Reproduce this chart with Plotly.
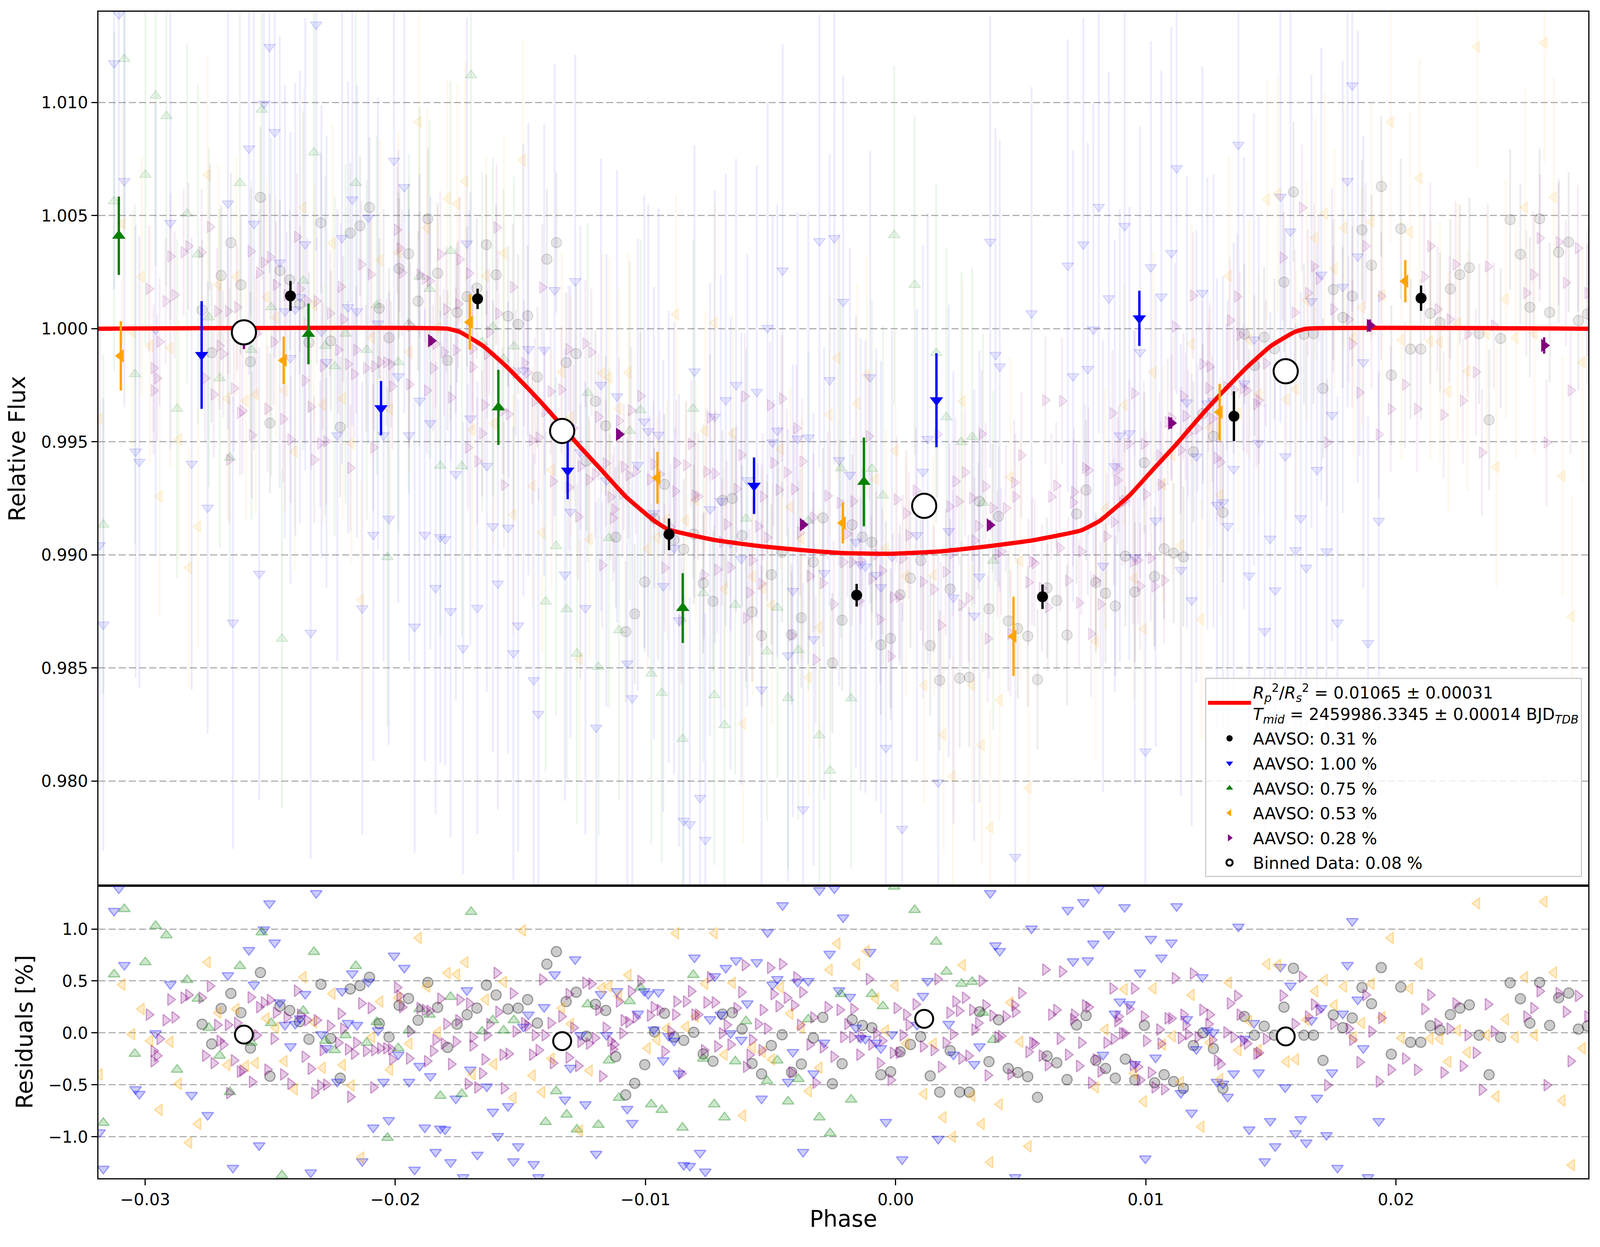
import numpy as np
import plotly.graph_objects as go
from plotly.subplots import make_subplots

# ---- transit model ----
model_phase = [-0.0319, -0.01791, -0.01743, -0.01649, -0.01554, -0.01459, -0.01364, -0.01269,
               -0.01174, -0.01079, -0.00965, -0.00908, -0.00718, -0.00528, -0.00339, -0.00209,
               -0.00019, 0.00171, 0.00361, 0.00550, 0.00740, 0.00816, 0.00930, 0.01025, 0.01120,
               0.01215, 0.01310, 0.01405, 0.01500, 0.01595, 0.01642, 0.0277]
model_flux = [1.0, 1.0, 0.99986, 0.99924, 0.99831, 0.99724, 0.99609, 0.99487,
              0.99373, 0.99258, 0.99151, 0.99112, 0.99065, 0.99037, 0.99018, 0.99008,
              0.99005, 0.99015, 0.99037, 0.99065, 0.99108, 0.99151, 0.99258, 0.99373, 0.99487,
              0.99609, 0.99724, 0.99831, 0.99924, 0.99986, 1.0, 1.0]

# ---- individual observations: phase and residual [%] ----
gray_phase = [-0.02539, -0.02657, -0.02696, -0.02617, -0.02772, -0.02734, -0.02579, -0.02501, -0.02461, -0.02422,
              -0.02383, -0.02345, -0.02297, -0.02258, -0.02220, -0.02180, -0.02141, -0.02103, -0.02064, -0.02025,
              -0.01985, -0.01947, -0.01909, -0.01870, -0.01831, -0.01791, -0.01753, -0.01713,
              -0.01636, -0.01597, -0.01674, -0.01549, -0.01509, -0.01471, -0.01432, -0.01394, -0.01356, -0.01317,
              -0.01277, -0.01236, -0.01200, -0.01159, -0.01119, -0.01079, -0.01043, -0.01003, -0.00964, -0.00924,
              -0.00886, -0.00847, -0.00807, -0.00769, -0.00730, -0.00692, -0.00653, -0.00614, -0.00574, -0.00536,
              -0.00497, -0.00454, -0.00416, -0.00377, -0.00329, -0.00291, -0.00253, -0.00214,
              -0.00174, -0.00133, -0.00095, -0.00059, -0.00020, 0.00018, 0.00059, 0.00100, 0.00138, 0.00176,
              0.00218, 0.00256, 0.00294, 0.00335, 0.00373, 0.00411, 0.00450, 0.00488, 0.00528, 0.00567,
              0.00605, 0.00644, 0.00685, 0.00723, 0.00761, 0.00800, 0.00839, 0.00878, 0.00918, 0.00956,
              0.00994, 0.01035, 0.01073, 0.01111, 0.01150, 0.01190, 0.01228, 0.01270,
              0.01308, 0.01394, 0.01434, 0.01473, 0.01514, 0.01552, 0.01590, 0.01632, 0.01670, 0.01708,
              0.01749, 0.01787, 0.01825, 0.01864, 0.01902, 0.01941, 0.01981, 0.02019, 0.02058, 0.02099,
              0.02137, 0.02176, 0.02217, 0.02255, 0.02293, 0.02332, 0.02372, 0.02418, 0.02456, 0.02497,
              0.02535, 0.02574, 0.02614, 0.02650, 0.02690, 0.02729, 0.02765]
gray_res = [0.581, 0.380, 0.235, 0.194, 0.083, -0.106, -0.146, -0.417, 0.257, 0.216,
            0.108, -0.061, 0.468, -0.054, -0.435, 0.423, 0.455, 0.536, 0.090, -0.040,
            0.266, 0.331, 0.122, 0.486, 0.245, -0.140, 0.083, 0.176,
            0.460, 0.365, 0.239, 0.230, 0.239, 0.320, 0.095, 0.662, 0.782, 0.302,
            0.392, -0.031, 0.275, 0.216, -0.228, -0.597, -0.485, -0.306, 0.011, 0.189,
            -0.040, -0.072, 0.005, -0.202, -0.273, 0.180, 0.194, 0.036, -0.295, -0.395,
            -0.121, -0.018, -0.378, -0.300, -0.049, 0.149, -0.489, -0.297,
            0.126, 0.072, 0.050, -0.403, -0.374, -0.183, -0.112, -0.036, -0.414, -0.570,
            -0.171, -0.570, -0.570, 0.203, -0.277, 0.126, -0.342, -0.381, -0.421, -0.620,
            -0.223, -0.288, -0.450, 0.077, 0.167, -0.264, -0.342, -0.435, -0.252, -0.453,
            0.072, -0.480, -0.403, -0.468, -0.534, -0.121, 0.000, -0.151,
            -0.534, 0.158, -0.022, 0.065, -0.022, 0.248, 0.622, -0.022, -0.022, -0.264,
            0.173, 0.050, 0.144, 0.437, 0.281, 0.629, -0.205, 0.442, -0.090, -0.090,
            0.068, 0.027, 0.176, 0.239, 0.270, -0.022, -0.403, -0.043, 0.482, 0.329,
            0.095, 0.486, 0.072, 0.338, 0.383, 0.036, 0.065]

blue_phase = [-0.03105, -0.03124, -0.03083, -0.02899, -0.02958, -0.03038, -0.03023, -0.02814, -0.02750, -0.02669,
              -0.02585, -0.02565, -0.02503, -0.02525, -0.02482, -0.02316, -0.02360, -0.02462, -0.02441, -0.02400,
              -0.02419, -0.02381, -0.02295, -0.02275, -0.02232, -0.02213, -0.02189, -0.02153, -0.02172, -0.02108,
              -0.02069, -0.02047, -0.02005, -0.01964, -0.01988, -0.01945, -0.01903, -0.01860, -0.01714, -0.01700,
              -0.01758, -0.02088, -0.02026, -0.01882, -0.01820, -0.01801, -0.01839, -0.01779, -0.01923, -0.02132,
              -0.02338, -0.02544, -0.02649, -0.03167, -0.03182, -0.01729,
              -0.01634, -0.01281, -0.01363, -0.01405, -0.01468, -0.01488, -0.01610, -0.01549, -0.01590, -0.01672,
              -0.01528, -0.01509, -0.01447, -0.01428, -0.01322, -0.01240, -0.01197, -0.01300, -0.01260, -0.01178,
              -0.01156, -0.01114, -0.01073, -0.01053, -0.01031, -0.01005, -0.00989, -0.00967, -0.00948, -0.00929,
              -0.00907, -0.00886, -0.00866, -0.00847, -0.00823, -0.00782, -0.00761, -0.00804, -0.00723, -0.00742,
              -0.00699, -0.00679, -0.00660, -0.00638, -0.00617, -0.00593, -0.00555, -0.00512, -0.00492, -0.00473,
              -0.00452, -0.00411, -0.00430, -0.00392, -0.00349, -0.00328, -0.00286, -0.00264, -0.00226, -0.00536,
              -0.00370, -0.00305, -0.00245, -0.00210,
              -0.00102, -0.00159, -0.00140, -0.00121, -0.00078, -0.00059, -0.00015, -0.00183, -0.00039, 0.00026,
              0.00109, 0.00128, 0.00085, 0.00212, 0.00231, 0.00314, 0.00335, 0.00170, 0.00378, 0.00399,
              0.00416, 0.00478, 0.00543, 0.00688, 0.00750, 0.00709, 0.00768, 0.00790, 0.00852, 0.00915,
              0.01020, 0.01102, 0.01062, 0.00977, 0.01123, 0.01226, 0.00896, 0.00934, 0.00876, 0.00829,
              0.00956, 0.01039, 0.01164, 0.01202, 0.01140, 0.01183, 0.01246, 0.01270, 0.01284, 0.00998,
              0.00812,
              0.01370, 0.01825, 0.01806, 0.01538, 0.01578, 0.01701, 0.01662, 0.01787, 0.01847, 0.01432,
              0.01392, 0.01869, 0.01351, 0.01451, 0.01744, 0.01557, 0.01684, 0.01327, 0.01308, 0.01413,
              0.01497, 0.01619, 0.01598, 0.01641, 0.01722, 0.01517, 0.01931, 0.01475, 0.01766, 0.01888]
blue_res = [1.390, 1.174, 0.653, 0.468, -0.004, -0.543, -0.588, -0.597, -0.791, 0.554,
            0.797, 0.464, 1.246, 0.995, 0.869, 1.345, 0.374, 0.293, 0.077, 0.086,
            -0.129, 0.140, -0.013, -0.147, -0.471, 0.401, 0.095, 0.077, 0.572, 0.491,
            0.023, -0.471, 0.743, 0.626, -0.210, -0.471, -0.318, -0.417, 0.410, -0.354,
            -0.633, -0.911, -0.840, -0.911, -0.921, -0.930, -1.146, -1.245, -1.317, -1.236,
            -1.344, -1.083, -1.299, -1.308, -0.957, -1.389,
            -0.516, 0.708, 0.563, 0.248, 0.176, 0.059, -0.759, -0.705, -0.993, -1.173,
            -1.236, -1.092, -1.263, -1.389, -0.642, -0.687, -1.164, -0.336, -0.022, 0.374,
            -0.022, 0.401, -0.732, -0.867, 0.185, 0.401, 0.374, 0.032, 0.392, -0.264,
            -0.031, -0.076, -0.390, -1.272, -1.281, -1.155, -1.335, 0.725, 0.545, 0.131,
            0.176, 0.625, -0.004, 0.698, -0.067, 0.284, 0.680, 0.968, 0.464, 0.518,
            1.228, -0.184, -0.471, 0.491, 0.500, -0.390, -0.094, 0.761, 0.410, -0.633,
            -1.146, 1.372, 1.390, 1.111,
            0.779, 0.050, -0.049, -0.058, -0.094, -0.148, -0.013, 0.347, -0.858, -1.218,
            0.356, 0.500, 0.077, 0.086, -0.210, -0.300, -0.130, -1.020, 1.345, 0.842,
            0.788, -1.389, 1.004, 1.183, 1.259, 0.689, 0.698, 0.860, 0.950, 1.210,
            0.905, 0.869, 0.725, 0.581, 1.219, 0.536, 0.302, 0.275, 0.185, -0.211,
            -0.300, -0.238, 0.131, -0.157, -0.579, -0.768, 0.023, 0.005, -0.471, -1.209,
            1.390,
            1.022, 1.076, 0.653, 0.635, 0.455, 0.239, 0.122, 0.185, 0.320, 0.095,
            -0.058, -0.148, -0.390, -0.381, -0.381, -0.525, -0.624, -0.615, -0.489, -0.930,
            -0.849, -0.831, -0.966, -1.056, -0.984, -1.092, -0.849, -1.236, -1.299, -1.389]

green_phase = [-0.03083, -0.03124, -0.02999, -0.02958, -0.02915, -0.02832, -0.02789, -0.02745, -0.02621, -0.02534,
               -0.02368, -0.02325, -0.02158, -0.02074, -0.02199, -0.02280, -0.02242, -0.02114, -0.01988, -0.01946,
               -0.01903, -0.01863, -0.01779, -0.01697, -0.01820, -0.01734, -0.02031, -0.03041, -0.02872, -0.02702,
               -0.02661, -0.02496, -0.03167, -0.02453, -0.02575,
               -0.01610, -0.01653, -0.01567, -0.01526, -0.01231, -0.01146, -0.01063, -0.01020, -0.00809, -0.00769,
               -0.00641, -0.00598, -0.00514, -0.00473, -0.00389, -0.00349, -0.00219, -0.01106, -0.00977, -0.00935,
               -0.00725, -0.00684, -0.00430, -0.00305, -0.00262, -0.00852, -0.01188, -0.01274, -0.01315, -0.01357,
               -0.01399,
               -0.00006, 0.00076, 0.00162, 0.00203, 0.00263, 0.00306, -0.00095, -0.00051, 0.00349, 0.00390,
               -0.00178]
green_res = [1.192, 0.563, 0.680, 1.030, 0.940, 0.509, 0.329, 0.050, 0.644, 0.968,
             0.212, 0.779, 0.644, 0.104, -0.022, -0.076, -0.166, -0.094, -0.148, 0.023,
             0.230, 0.176, 0.347, 1.165, -0.606, -0.588, -1.010, -0.201, -0.354, -0.219,
             -0.570, 0.095, -0.866, -1.371, -0.094,
             0.122, 0.014, 0.023, 0.122, 0.275, -0.265, 0.305, 0.437, 0.558, -0.247,
             -0.274, 0.113, -0.462, -0.265, -0.444, 0.131, 0.374, -0.624, -0.687, -0.741,
             -0.687, -0.813, -0.660, -0.813, -0.966, -0.912, -0.885, -0.930, -0.786, -0.561,
             -0.858,
             1.408, 1.183, 0.878, 0.590, 0.473, 0.491, 0.374, 0.257, 0.194, -0.067,
             -0.642]

orange_phase = [-0.03091, -0.03014, -0.03052, -0.02980, -0.02899, -0.02750, -0.02707, -0.02635, -0.02865, -0.02942,
                -0.02788, -0.02824, -0.03182, -0.02671, -0.02597, -0.02558, -0.02515, -0.02477, -0.02443, -0.02402,
                -0.02367, -0.02325, -0.02290, -0.02251, -0.02210, -0.02175, -0.02093, -0.02060, -0.02021, -0.01988,
                -0.01944, -0.01906, -0.01873, -0.01830, -0.01791, -0.01753, -0.01720, -0.02136, -0.01691,
                -0.01490, -0.01566, -0.01638, -0.01605, -0.01451, -0.01528, -0.01413, -0.01223, -0.01298, -0.01334,
                -0.01375, -0.01173, -0.01145, -0.01106, -0.01068, -0.00991, -0.00953, -0.00914, -0.00838, -0.00799,
                -0.00878, -0.00724, -0.00761, -0.00651, -0.00684, -0.00571, -0.00531, -0.00494, -0.00459, -0.00421,
                -0.00377, -0.00305, -0.00264, -0.00233, -0.00347, -0.00610, -0.01262,
                -0.00116, -0.00154, -0.00001, 0.00268, -0.00078, -0.00039, 0.00042, 0.00152, 0.00459, 0.00498,
                0.00838, 0.00915, 0.01030, 0.01183, 0.01107, 0.01068, 0.01255, 0.00953, 0.00800, 0.01140,
                0.00114, 0.00306, 0.00416, 0.00191, 0.00344, 0.00229, 0.00531, 0.00378, 0.00992, 0.01222,
                0.02324, 0.02593, 0.01979, 0.02094, 0.01485, 0.01528, 0.01332, 0.01715, 0.01792, 0.01902,
                0.01677, 0.02056, 0.01754, 0.01864, 0.01945, 0.01643, 0.01413, 0.01830, 0.01370, 0.01451,
                0.02022, 0.02137, 0.02176, 0.02247, 0.02363, 0.02478, 0.02554, 0.02439, 0.02516, 0.02631,
                0.02746, 0.02286, 0.02209, 0.01562, 0.01600, 0.02401, 0.02665, 0.02703, 0.01298]
orange_res = [0.464, 0.230, -0.013, -0.076, -0.085, 0.680, 0.194, 0.230, -0.490, -0.741,
              -0.875, -1.056, -0.399, -0.309, -0.318, -0.291, 0.140, 0.050, -0.273, -0.543,
              0.536, 0.104, -0.336, 0.378, -0.309, -0.506, -0.040, 0.302, -0.355, 0.338,
              -0.103, 0.914, 0.446, 0.005, 0.576, 0.563, 0.680, -1.200, -0.399,
              0.986, 0.491, 0.320, -0.301, -0.409, -0.624, -0.570, -0.363, 0.086, 0.239,
              -0.247, 0.432, 0.446, 0.356, 0.558, -0.148, -0.067, 0.041, 0.059, 0.158,
              0.959, 0.959, 0.473, 0.482, -0.210, -0.139, -0.184, -0.256, 0.437, 0.185,
              0.050, -0.336, 0.608, 0.860, -0.561, -0.795, -0.939,
              0.788, 0.662, 0.455, 0.653, 0.329, 0.023, -0.103, -0.103, 0.293, -0.085,
              0.032, 0.419, 0.428, 0.365, -0.031, -0.112, -0.094, -0.390, -0.525, -0.471,
              -0.588, -0.606, -0.687, -0.812, -0.876, -1.001, -1.092, -1.245, -0.660, -0.903,
              1.246, 1.264, 0.914, 0.665, 0.662, 0.653, 0.485, 0.509, 0.446, 0.473,
              0.401, 0.428, 0.266, 0.095, 0.149, 0.126, 0.113, -0.040, -0.166, -0.166,
              -0.049, -0.054, -0.058, 0.023, -0.022, -0.040, -0.022, 0.131, 0.536, 0.581,
              -0.148, -0.187, -0.277, -0.277, -0.255, -0.612, -0.651, -1.272, -0.445]

purple_phase = [-0.02846, -0.02774, -0.02741, -0.02827, -0.02899, -0.02985, -0.02918, -0.02882, -0.02712, -0.02669,
                -0.02632, -0.02578, -0.02544, -0.02525, -0.02501, -0.02477, -0.02434, -0.02393, -0.02381, -0.02352,
                -0.02314, -0.02261, -0.02218, -0.02208, -0.02136, -0.02098, -0.01993, -0.01983, -0.01973, -0.01903,
                -0.01882, -0.01863, -0.01820, -0.01743, -0.01705, -0.01796, -0.01748, -0.02966, -0.02952, -0.02942,
                -0.02760, -0.02726, -0.02702, -0.02688, -0.02645, -0.02621, -0.02611, -0.02573, -0.02511, -0.02486,
                -0.02448, -0.02419, -0.02554, -0.02362, -0.02338, -0.02290, -0.02324, -0.02300, -0.02276, -0.02228,
                -0.02189, -0.02165, -0.02156, -0.02117, -0.02084, -0.02060, -0.02036, -0.02017, -0.02012, -0.01945,
                -0.02088, -0.02180, -0.01940, -0.01873, -0.01849, -0.01839, -0.01806, -0.01777, -0.01758, -0.01710,
                -0.01691, -0.02664, -0.02966,
                -0.01595, -0.01413, -0.01530, -0.01588, -0.01624, -0.01691, -0.01634, -0.01643, -0.01571, -0.01547,
                -0.01566, -0.01672, -0.01653, -0.01519, -0.01485, -0.01471, -0.01442, -0.01403, -0.01379, -0.01453,
                -0.01427, -0.01370, -0.01336, -0.01307, -0.01288, -0.01307, -0.01269, -0.01240, -0.01216, -0.01188,
                -0.01173, -0.01202, -0.01260, -0.01226, -0.01159, -0.01125, -0.01130, -0.01140, -0.01106, -0.01092,
                -0.01087, -0.01068, -0.01058, -0.01039, -0.01020, -0.00982, -0.00967, -0.00943, -0.00924, -0.00900,
                -0.00881, -0.00876, -0.00838, -0.00818, -0.00804, -0.00790, -0.00766, -0.00756, -0.00742, -0.00723,
                -0.00713, -0.00694, -0.00675, -0.00660, -0.00636, -0.00617, -0.00603, -0.00574, -0.00550, -0.00531,
                -0.00514, -0.00584, -0.00598, -0.00536, -0.00502, -0.00488, -0.00468, -0.00454, -0.00435, -0.00406,
                -0.00397, -0.00373, -0.00344, -0.00382, -0.00291, -0.00329, -0.00272, -0.00248, -0.00224, -0.00209,
                -0.00320, -0.00416, -0.00857,
                -0.00107, -0.00169, -0.00193, -0.00174, -0.00140, -0.00097, -0.00078, -0.00054, -0.00145, -0.00063,
                -0.00020, -0.00011, 0.00013, 0.00004, 0.00042, 0.00028, 0.00052, 0.00080, 0.00109, 0.00152,
                0.00167, 0.00181, 0.00200, 0.00215, 0.00229, 0.00239, 0.00253, 0.00277, 0.00263, 0.00291,
                0.00306, 0.00315, 0.00330, 0.00344, 0.00359, 0.00368, 0.00387, 0.00407, 0.00421, 0.00440,
                0.00459, 0.00474, 0.00478, 0.00502, 0.00531, 0.00546, 0.00555, 0.00584, 0.00598, 0.00608,
                0.00622, 0.00642, 0.00656, 0.00665, 0.00689, 0.00709, 0.00713, 0.00733, 0.00742, 0.00757,
                0.00771, 0.00781, 0.00800, 0.00819, 0.00843, 0.00867, 0.00872, 0.00886, 0.00891, 0.00905,
                0.00915, 0.00934, 0.00948, 0.00953, 0.00968, 0.00977, 0.00992, 0.01001, 0.01020, 0.01035,
                0.01054, 0.01059, 0.01073, 0.01087, 0.01102, 0.01116, 0.01140, 0.01150, 0.01159, 0.01169,
                0.01188, 0.01207, 0.01226, 0.01250, 0.01255, 0.01265, 0.01284,
                0.01365, 0.01336, 0.01375, 0.01322, 0.01351, 0.01389, 0.01404, 0.01442, 0.01451, 0.01298,
                0.01480, 0.01547, 0.01624, 0.01595, 0.01672, 0.01691, 0.01648, 0.01749, 0.01811, 0.01825,
                0.01902, 0.01878, 0.01854, 0.01931, 0.01979, 0.02036, 0.02084, 0.02113, 0.02137, 0.02166,
                0.02190, 0.02214, 0.02238, 0.02267, 0.02286, 0.02319, 0.02343, 0.02367, 0.02391, 0.02521,
                0.02549, 0.02574, 0.02602, 0.02650, 0.02679, 0.02698, 0.02727, 0.02765, 0.01725, 0.01941]
purple_res = [0.338, 0.338, 0.450, 0.365, 0.320, 0.176, 0.122, 0.149, 0.077, 0.077,
              0.095, 0.342, 0.248, 0.293, 0.317, 0.194, 0.149, 0.406, 0.176, 0.122,
              0.122, 0.068, 0.185, 0.041, 0.284, 0.239, 0.437, 0.356, 0.248, 0.239,
              0.221, 0.212, 0.329, 0.320, 0.284, 0.086, 0.122, -0.174, -0.219, -0.058,
              -0.219, -0.291, -0.076, -0.112, -0.264, -0.372, -0.363, -0.471, -0.354, -0.058,
              -0.399, -0.490, -0.022, -0.229, -0.345, -0.166, -0.579, -0.507, -0.498, -0.094,
              -0.157, -0.201, -0.094, -0.174, -0.166, -0.148, -0.148, -0.157, -0.255, -0.246,
              -0.525, -0.615, 0.014, -0.273, -0.174, -0.067, -0.103, -0.300, -0.085, -0.490,
              -0.040, -0.579, -0.273,
              0.577, 0.514, 0.380, 0.203, 0.086, -0.121, -0.022, -0.255, -0.210, -0.201,
              -0.534, -0.525, -0.390, 0.014, 0.095, 0.068, -0.022, -0.022, 0.095, -0.210,
              -0.166, -0.291, 0.158, 0.374, 0.050, -0.237, -0.318, 0.482, 0.473, 0.221,
              -0.417, -0.049, -0.085, -0.103, 0.050, -0.112, -0.157, -0.076, 0.302, -0.004,
              0.122, 0.104, 0.401, 0.149, 0.500, 0.167, 0.248, 0.221, -0.180, 0.014,
              0.176, 0.302, 0.302, 0.401, 0.176, 0.176, -0.166, 0.293, 0.536, 0.293,
              -0.130, -0.004, 0.077, -0.112, 0.239, 0.392, 0.653, -0.067, 0.086, 0.221,
              0.041, -0.211, -0.327, -0.166, 0.627, 0.374, 0.257, 0.662, 0.338, 0.266,
              0.536, 0.392, -0.112, 0.077, -0.139, 0.149, 0.248, -0.229, 0.221, -0.040,
              -0.480, -0.381, -0.390,
              0.518, 0.230, 0.086, -0.040, -0.031, -0.112, -0.004, -0.076, -0.210, -0.291,
              -0.453, -0.192, -0.192, 0.239, 0.176, -0.022, 0.077, 0.275, -0.130, -0.166,
              0.518, -0.327, -0.094, 0.194, -0.013, 0.302, 0.212, 0.338, -0.247, -0.220,
              0.221, 0.032, 0.095, 0.500, 0.266, -0.408, 0.167, -0.040, -0.031, 0.158,
              -0.399, 0.266, 0.203, 0.383, -0.183, -0.094, -0.103, -0.219, 0.608, -0.310,
              0.176, 0.221, -0.058, 0.590, -0.210, 0.131, 0.176, -0.318, -0.094, 0.266,
              0.248, -0.480, -0.255, -0.372, -0.094, 0.428, -0.058, 0.113, 0.158, -0.004,
              -0.004, 0.230, -0.309, 0.428, -0.327, -0.453, 0.158, -0.076, -0.381, -0.525,
              0.032, -0.103, -0.543, 0.140, 0.140, 0.527, -0.049, 0.176, 0.077, -0.013,
              0.572, -0.040, 0.221, 0.086, 0.176, -0.067, -0.264,
              0.356, 0.284, 0.176, 0.005, -0.040, -0.076, -0.103, -0.201, -0.192, -0.300,
              -0.058, 0.360, 0.540, 0.086, 0.275, 0.221, 0.158, 0.086, 0.041, -0.067,
              0.014, 0.365, -0.282, -0.468, -0.355, -0.247, -0.355, 0.230, 0.365, 0.086,
              -0.381, 0.041, 0.284, -0.318, -0.022, -0.192, -0.547, 0.275, 0.014, 0.158,
              0.239, 0.401, -0.503, 0.383, 0.203, -0.273, 0.356, 0.158, -0.503, 0.144]

# per-point flux uncertainty of each data set (relative)
gray_err, blue_err, green_err, orange_err, purple_err = 0.0031, 0.0100, 0.0075, 0.0053, 0.0028

# ---- per-data-set binned points ----
black_b_phase = [-0.02419, -0.01671, -0.00906, -0.00156, 0.00587, 0.01352, 0.02100]
black_b_flux = [1.00145, 1.00132, 0.99091, 0.98822, 0.98815, 0.99613, 1.00135]
black_b_err = [0.00066, 0.00045, 0.0007, 0.0005, 0.00054, 0.0011, 0.00056]

blue_b_phase = [-0.02774, -0.02057, -0.01311, -0.00566, 0.00163, 0.00974]
blue_b_flux = [0.99884, 0.99649, 0.99373, 0.99306, 0.99684, 1.00046]
blue_b_err = [0.00238, 0.0012, 0.00127, 0.00125, 0.00208, 0.00122]

green_b_phase = [-0.03105, -0.02347, -0.01588, -0.00851, -0.00127]
green_b_flux = [1.00411, 0.99977, 0.99652, 0.98765, 0.99323]
green_b_err = [0.00173, 0.00134, 0.00166, 0.00154, 0.00196]

orange_b_phase = [-0.03097, -0.02446, -0.01702, -0.00952, -0.00211, 0.00471, 0.01295, 0.02037]
orange_b_flux = [0.99880, 0.99860, 1.00029, 0.99341, 0.99141, 0.98640, 0.99631, 1.00210]
orange_b_err = [0.00153, 0.00105, 0.00122, 0.00115, 0.0009, 0.00175, 0.00126, 0.00093]

purple_b_phase = [-0.02605, -0.01857, -0.01106, -0.00371, 0.00376, 0.01101, 0.01895, 0.02592]
purple_b_flux = [0.99970, 0.99947, 0.99533, 0.99134, 0.99132, 0.99583, 1.00014, 0.99926]
purple_b_err = [0.0006, 0.0002, 0.0002, 0.0002, 0.0002, 0.00025, 0.00027, 0.00036]

# ---- all-data binned points ----
bin_phase = [-0.02605, -0.01333, 0.00114, 0.01559]
bin_flux = [0.99984, 0.99548, 0.99217, 0.99812]
bin_res = [-0.016, -0.079, 0.135, -0.034]

# ---- axes ----
x_ticks = [-0.03, -0.02, -0.01, 0.0, 0.01, 0.02]
x_labels = ["\u22120.03", "\u22120.02", "\u22120.01", "0.00", "0.01", "0.02"]
y_ticks = [0.980, 0.985, 0.990, 0.995, 1.000, 1.005, 1.010]
y_labels = ["0.980", "0.985", "0.990", "0.995", "1.000", "1.005", "1.010"]
r_ticks = [-1.0, -0.5, 0.0, 0.5, 1.0]
r_labels = ["\u22121.0", "\u22120.5", "0.0", "0.5", "1.0"]

FONT = "DejaVu Sans"


def rgba(rgb, a):
    return f"rgba({rgb[0]},{rgb[1]},{rgb[2]},{a})"


series = [
    # rgb, symbol, phases, residuals, error, bold phases, bold flux, bold err, label
    ((0, 0, 0), "circle", gray_phase, gray_res, gray_err,
     black_b_phase, black_b_flux, black_b_err, "AAVSO: 0.31 %"),
    ((0, 0, 255), "triangle-down", blue_phase, blue_res, blue_err,
     blue_b_phase, blue_b_flux, blue_b_err, "AAVSO: 1.00 %"),
    ((0, 128, 0), "triangle-up", green_phase, green_res, green_err,
     green_b_phase, green_b_flux, green_b_err, "AAVSO: 0.75 %"),
    ((255, 165, 0), "triangle-left", orange_phase, orange_res, orange_err,
     orange_b_phase, orange_b_flux, orange_b_err, "AAVSO: 0.53 %"),
    ((128, 0, 128), "triangle-right", purple_phase, purple_res, purple_err,
     purple_b_phase, purple_b_flux, purple_b_err, "AAVSO: 0.28 %"),
]

fig = make_subplots(rows=2, cols=1, shared_xaxes=True, vertical_spacing=0,
                    row_heights=[0.7492, 0.2508])

# faint individual points
for rgb, sym, ph, res, err, *_ in series:
    ph = np.array(ph)
    res = np.array(res)
    flux = np.interp(ph, model_phase, model_flux) + res / 100.0
    fig.add_trace(go.Scatter(
        x=ph, y=flux, mode="markers", showlegend=False, hoverinfo="skip",
        marker=dict(symbol=sym, size=26, color=rgba(rgb, 0.09),
                    line=dict(color=rgba(rgb, 0.17), width=2)),
        error_y=dict(type="constant", value=err, color=rgba(rgb, 0.075),
                     thickness=5, width=0),
    ), row=1, col=1)
    fig.add_trace(go.Scatter(
        x=ph, y=res, mode="markers", showlegend=False, hoverinfo="skip",
        marker=dict(symbol=sym, size=26, color=rgba(rgb, 0.2),
                    line=dict(color=rgba(rgb, 0.35), width=3)),
    ), row=2, col=1)

# transit model
fig.add_trace(go.Scatter(
    x=model_phase, y=model_flux, mode="lines", legendgroup="model",
    line=dict(color="red", width=11, shape="spline", smoothing=0.4),
    name=("<i>R</i><sub><i>p</i></sub><sup>2</sup>/<i>R</i><sub><i>s</i></sub><sup>2</sup> = 0.01065 \u00b1 0.00031"
          "<br><i>T</i><sub><i>mid</i></sub> = 2459986.3345 \u00b1 0.00014 BJD<sub><i>TDB</i></sub>"),
), row=1, col=1)

# per-data-set binned points
for rgb, sym, _, _, _, bph, bfl, ber, label in series:
    fig.add_trace(go.Scatter(
        x=bph, y=bfl, mode="markers", name=label, legendgroup=label,
        marker=dict(symbol=sym, size=28 if sym == "circle" else 30, color=rgba(rgb, 1),
                    line=dict(width=0)),
        error_y=dict(type="data", array=ber, color=rgba(rgb, 1), thickness=6, width=0),
    ), row=1, col=1)

# all-data binned points
fig.add_trace(go.Scatter(
    x=bin_phase, y=bin_flux, mode="markers", name="Binned Data: 0.08 %", legendgroup="binned",
    marker=dict(symbol="circle", size=62, color="white", line=dict(color="black", width=5)),
), row=1, col=1)
fig.add_trace(go.Scatter(
    x=bin_phase, y=bin_res, mode="markers", showlegend=False,
    marker=dict(symbol="circle", size=46, color="white", line=dict(color="black", width=5)),
), row=2, col=1)

axis_common = dict(showline=True, mirror=True, linecolor="black", linewidth=3.3,
                   zeroline=False, tickfont=dict(family=FONT, size=42, color="black"),
                   ticks="outside", ticklen=15, tickwidth=3.3, tickcolor="black")
grid = dict(showgrid=True, gridcolor="#b0b0b0", gridwidth=3, griddash="18px,8px")

fig.update_xaxes(range=[-0.031865, 0.027684], showgrid=False, tickvals=x_ticks,
                 ticktext=x_labels, **axis_common)
fig.update_xaxes(showticklabels=False, ticks="", row=1, col=1)
fig.update_xaxes(title=dict(text="Phase", font=dict(family=FONT, size=58, color="black"),
                            standoff=6), row=2, col=1)
fig.update_yaxes(range=[0.975378, 1.014014], tickvals=y_ticks, ticktext=y_labels,
                 title=dict(text="Relative Flux", font=dict(family=FONT, size=58, color="black"),
                            standoff=22),
                 **axis_common, **grid, row=1, col=1)
fig.update_yaxes(range=[-1.399, 1.417], tickvals=r_ticks, ticktext=r_labels,
                 title=dict(text="Residuals [%]", font=dict(family=FONT, size=58, color="black"),
                            standoff=22),
                 **axis_common, **grid, row=2, col=1)

# figure fills the browser window (minus the 8 px body margin on each side)
fig.update_layout(
    autosize=True,
    margin=dict(l=244, r=22, t=22, b=168),
    paper_bgcolor="white", plot_bgcolor="white",
    font=dict(family=FONT, size=42, color="black"),
    legend=dict(x=0.9957, y=0.2582, xanchor="right", yanchor="bottom",
                bgcolor="rgba(255,255,255,0.8)", bordercolor="#cccccc", borderwidth=3,
                font=dict(family=FONT, size=42, color="black"), itemwidth=110,
                tracegroupgap=6),
)

fig.write_html("out.html", default_width="100%", default_height="calc(100vh - 16px)",
               config={"responsive": True})
